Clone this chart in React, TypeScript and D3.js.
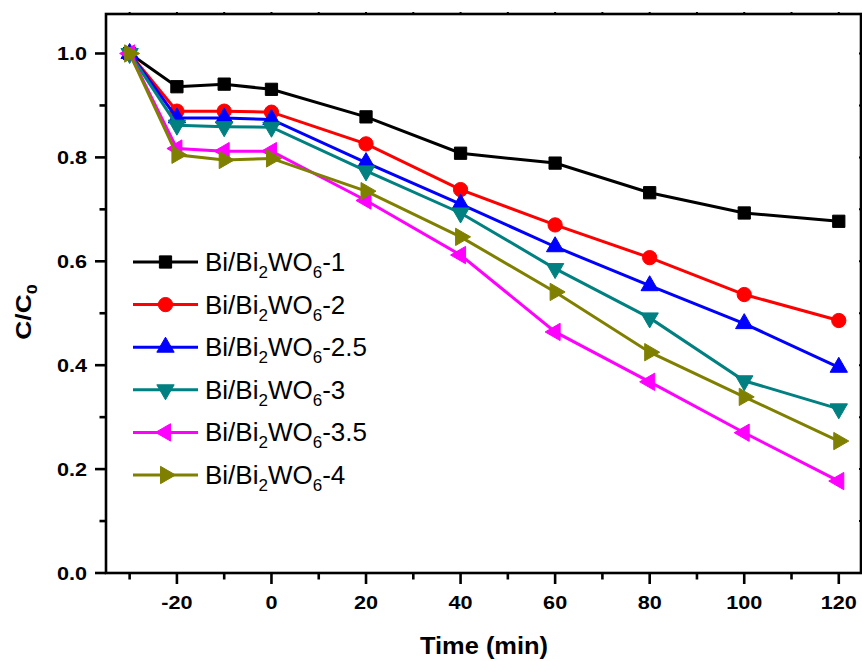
import React from "react";
import * as d3 from "d3";

const times = [-30, -20, -10, 0, 20, 40, 60, 80, 100, 120];
const s1 = [1.0, 0.936, 0.941, 0.931, 0.878, 0.808, 0.789, 0.732, 0.693, 0.677];
const s2 = [1.0, 0.889, 0.889, 0.887, 0.826, 0.738, 0.670, 0.607, 0.536, 0.486];
const s25 = [1.0, 0.876, 0.876, 0.873, 0.790, 0.710, 0.628, 0.553, 0.480, 0.396];
const s3 = [1.0, 0.862, 0.859, 0.858, 0.774, 0.693, 0.586, 0.491, 0.370, 0.316];
const s35 = [1.0, 0.817, 0.812, 0.812, 0.717, 0.612, 0.464, 0.368, 0.270, 0.177];
const s4 = [1.0, 0.805, 0.795, 0.798, 0.735, 0.647, 0.541, 0.425, 0.339, 0.254];
const suffixes = ["-1", "-2", "-2.5", "-3", "-3.5", "-4"];
const colors = ["#000000", "#FF0000", "#0000FF", "#008080", "#FF00FF", "#808000"];
const markers = ["square", "circle", "up", "down", "left", "right"];
const xTicks = [-20, 0, 20, 40, 60, 80, 100, 120];
const yTicks = [0.0, 0.2, 0.4, 0.6, 0.8, 1.0];

const seriesValues = [s1, s2, s25, s3, s35, s4];

const W = 862, H = 661;
const left = 106, right = 861, top = 14, bottom = 573;
const x = d3.scaleLinear().domain([-35, 124.7]).range([left, right]);
const y = d3.scaleLinear().domain([0, 1.076]).range([bottom, top]);

const FONT = "'Liberation Sans', Arial, Helvetica, sans-serif";

function markerPath(kind: string): { d: string; rot: number } {
  if (kind === "square") return { d: d3.symbol(d3.symbolSquare, 150)()!, rot: 0 };
  if (kind === "circle") return { d: d3.symbol(d3.symbolCircle, 160)()!, rot: 0 };
  const tri = d3.symbol(d3.symbolTriangle, 130)()!;
  const rot = kind === "up" ? 0 : kind === "down" ? 180 : kind === "left" ? -90 : 90;
  return { d: tri, rot };
}

function Marker({ kind, cx, cy, color }: { kind: string; cx: number; cy: number; color: string }) {
  const m = markerPath(kind);
  return (
    <path
      d={m.d}
      transform={`translate(${cx},${cy}) rotate(${m.rot})`}
      fill={color}
      stroke={color}
      strokeWidth={1}
    />
  );
}

export default function App() {
  const line = d3
    .line<[number, number]>()
    .x((d) => x(d[0]))
    .y((d) => y(d[1]));
  const minorX = d3.range(-30, 121, 10).filter((v) => !xTicks.includes(v));
  const minorY = d3.range(0.1, 1.01, 0.2);

  const legendX0 = 133, legendX1 = 198, legendY0 = 262, legendDy = 42.6;

  return (
    <svg
      width={W}
      height={H}
      style={{ position: "absolute", left: 0, top: 0, background: "#fff" }}
      fontFamily={FONT}
    >
      <rect x={0} y={0} width={W} height={H} fill="#fff" />
      {/* axes frame */}
      <rect x={left} y={top} width={right - left} height={bottom - top} fill="none" stroke="#000" strokeWidth={2.6} />
      {/* x ticks */}
      {xTicks.map((t) => (
        <g key={"xt" + t}>
          <line x1={x(t)} x2={x(t)} y1={bottom} y2={bottom + 11} stroke="#000" strokeWidth={2.6} />
          <line x1={x(t)} x2={x(t)} y1={top} y2={top - 2} stroke="#000" strokeWidth={2} />
          <text
            transform={`translate(${x(t)},609) scale(1.17,1)`}
            textAnchor="middle"
            fontSize={18.5}
            fontWeight="bold"
          >
            {t}
          </text>
        </g>
      ))}
      {minorX.map((t) => (
        <g key={"xm" + t}>
          <line x1={x(t)} x2={x(t)} y1={bottom} y2={bottom + 6.5} stroke="#000" strokeWidth={2.6} />
          <line x1={x(t)} x2={x(t)} y1={top} y2={top - 2} stroke="#000" strokeWidth={2} />
        </g>
      ))}
      {/* y ticks */}
      {yTicks.map((t) => (
        <g key={"yt" + t}>
          <line x1={left} x2={left - 11} y1={y(t)} y2={y(t)} stroke="#000" strokeWidth={2.6} />
          <line x1={right} x2={right - 2} y1={y(t)} y2={y(t)} stroke="#000" strokeWidth={2} />
          <text
            transform={`translate(87,${y(t) + 6.5}) scale(1.17,1)`}
            textAnchor="end"
            fontSize={18.5}
            fontWeight="bold"
          >
            {t.toFixed(1)}
          </text>
        </g>
      ))}
      {minorY.map((t) => (
        <g key={"ym" + t}>
          <line x1={left} x2={left - 6.5} y1={y(t)} y2={y(t)} stroke="#000" strokeWidth={2.6} />
          <line x1={right} x2={right - 2} y1={y(t)} y2={y(t)} stroke="#000" strokeWidth={2} />
        </g>
      ))}
      {/* axis titles */}
      <text
        transform="translate(484,654) scale(1.06,1)"
        textAnchor="middle"
        fontSize={24}
        fontWeight="bold"
      >
        Time (min)
      </text>
      <text transform="translate(31,312) rotate(-90) scale(1.2,1)" textAnchor="middle" fontSize={22} fontWeight="bold">
        C/C<tspan fontSize={15} dy={6}>0</tspan>
      </text>
      {/* series */}
      {seriesValues.map((vals, i) => {
        const pts: [number, number][] = times.map((t, j) => [t, vals[j]]);
        return (
          <g key={"s" + i}>
            <path d={line(pts)!} fill="none" stroke={colors[i]} strokeWidth={3} />
            {pts.map((p, j) => (
              <Marker key={j} kind={markers[i]} cx={x(p[0])} cy={y(p[1])} color={colors[i]} />
            ))}
          </g>
        );
      })}
      {/* legend */}
      {suffixes.map((s, i) => {
        const ly = legendY0 + i * legendDy;
        return (
          <g key={"lg" + i}>
            <line x1={legendX0} x2={legendX1} y1={ly} y2={ly} stroke={colors[i]} strokeWidth={3} />
            <Marker kind={markers[i]} cx={(legendX0 + legendX1) / 2} cy={ly} color={colors[i]} />
            <text x={205} y={ly + 9} fontSize={26}>
              Bi/Bi
              <tspan fontSize={17} dy={7}>2</tspan>
              <tspan dy={-7}>WO</tspan>
              <tspan fontSize={17} dy={7}>6</tspan>
              <tspan dy={-7}>{s}</tspan>
            </text>
          </g>
        );
      })}
    </svg>
  );
}
